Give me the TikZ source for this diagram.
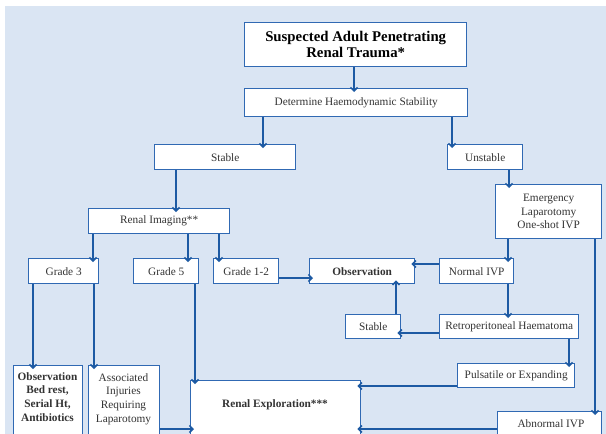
\documentclass[tikz,border=0pt]{standalone}
\usepackage{fontspec}
\setmainfont{Liberation Serif}
\usetikzlibrary{arrows.meta}
\definecolor{bg}{HTML}{DAE5F3}
\definecolor{bline}{HTML}{3069B3}
\definecolor{aline}{HTML}{1D5AA3}
\definecolor{txt}{HTML}{333333}
\tikzset{
  box/.style={draw=bline, line width=1.4pt, fill=white, anchor=north west, inner sep=0pt,
    text=txt, font=\fontsize{11.3}{13.5}\selectfont, align=center},
  lbl/.style={inner sep=0pt, text=txt, font=\fontsize{11.3}{13.8}\selectfont, align=center},
  arr/.style={draw=aline, line width=1.8pt, -{Straight Barb[length=3.5pt,width=7pt,line width=1.5pt]}, shorten >=-4pt},
}
\begin{document}
\begin{tikzpicture}[x=1pt,y=-1pt]
\useasboundingbox (0,0) rectangle (606,434);
\clip (0,0) rectangle (606,434);
\fill[bg] (5,6) rectangle (606,440);
% boxes
\node[box, minimum width=222pt, minimum height=44pt, font=\fontsize{14.8}{16}\selectfont\bfseries, text=black] (title) at (244,22) {Suspected Adult Penetrating\\Renal Trauma*};
\node[box, minimum width=223pt, minimum height=28pt] (det) at (244,88) {Determine Haemodynamic Stability};
\node[box, minimum width=141pt, minimum height=25pt] (stab) at (154,144) {Stable};
\node[box, minimum width=75pt, minimum height=25pt] (unst) at (447,144) {Unstable};
\node[box, minimum width=106pt, minimum height=54pt] (emer) at (495,184) {Emergency\\Laparotomy\\One-shot IVP};
\node[box, minimum width=141pt, minimum height=25pt] (img) at (88,208) {Renal Imaging**};
\node[box, minimum width=70pt, minimum height=25pt] (g3) at (28,258) {Grade 3};
\node[box, minimum width=65pt, minimum height=25pt] (g5) at (133,258) {Grade 5};
\node[box, minimum width=65pt, minimum height=25pt] (g12) at (213,258) {Grade 1-2};
\node[box, minimum width=105pt, minimum height=25pt, font=\fontsize{11.3}{13.5}\selectfont\bfseries] (obs) at (309,258) {Observation};
\node[box, minimum width=74pt, minimum height=25pt] (nivp) at (439,258) {Normal IVP};
\node[box, minimum width=55pt, minimum height=24pt] (stab2) at (345,314) {Stable};
\node[box, minimum width=139pt, minimum height=24pt] (retro) at (439,314) {Retroperitoneal Haematoma};
\node[box, minimum width=117pt, minimum height=24pt] (puls) at (457,363) {Pulsatile or Expanding};
\node[box, minimum width=170pt, minimum height=80pt] (renex) at (190,380) {};
\node[box, minimum width=104pt, minimum height=40pt] (abn) at (497,411) {};
\node[box, minimum width=69pt, minimum height=90pt] (obsb) at (13,365) {};
\node[box, minimum width=71pt, minimum height=90pt] (assoc) at (88,365) {};
% texts of cut boxes
\node[lbl, font=\fontsize{11.3}{13.5}\selectfont\bfseries] (renext) at (275,405) {Renal Exploration***};
\node[lbl] (abnt) at (551,424) {Abnormal IVP};
\node[lbl, anchor=north, font=\fontsize{11.3}{13.8}\selectfont\bfseries] (obsbt) at (47.5,372) {Observation\\Bed rest,\\Serial Ht,\\Antibiotics};
\node[lbl, anchor=north] (assoct) at (123.5,373) {Associated\\Injuries\\Requiring\\Laparotomy};
% arrows
\draw[arr] (title.south -| 354,0) -- (det.north -| 354,0);
\draw[arr] (det.south -| 263,0) -- (stab.north -| 263,0);
\draw[arr] (det.south -| 452,0) -- (unst.north -| 452,0);
\draw[arr] (unst.south -| 509,0) -- (emer.north -| 509,0);
\draw[arr] (stab.south -| 176,0) -- (img.north -| 176,0);
\draw[arr] (img.south -| 93,0) -- (g3.north -| 93,0);
\draw[arr] (img.south -| 188,0) -- (g5.north -| 188,0);
\draw[arr] (img.south -| 219,0) -- (g12.north -| 219,0);
\draw[arr] (g12.east |- 0,278) -- (obs.west |- 0,278);
\draw[arr] (nivp.west |- 0,264) -- (obs.east |- 0,264);
\draw[arr] (emer.south -| 508,0) -- (nivp.north -| 508,0);
\draw[arr] (nivp.south -| 508,0) -- (retro.north -| 508,0);
\draw[arr] (retro.west |- 0,333) -- (stab2.east |- 0,333);
\draw[arr] (stab2.north -| 396,0) -- (obs.south -| 396,0);
\draw[arr] (retro.south -| 569,0) -- (puls.north -| 569,0);
\draw[arr] (puls.west |- 0,386) -- (renex.east |- 0,386);
\draw[arr] (emer.south -| 595,0) -- (abn.north -| 595,0);
\draw[arr] (abn.west |- 0,429) -- (renex.east |- 0,429);
\draw[arr] (g3.south -| 33,0) -- (obsb.north -| 33,0);
\draw[arr] (g3.south -| 94,0) -- (assoc.north -| 94,0);
\draw[arr] (g5.south -| 195,0) -- (renex.north -| 195,0);
\draw[arr] (assoc.east |- 0,429) -- (renex.west |- 0,429);
\end{tikzpicture}
\end{document}
